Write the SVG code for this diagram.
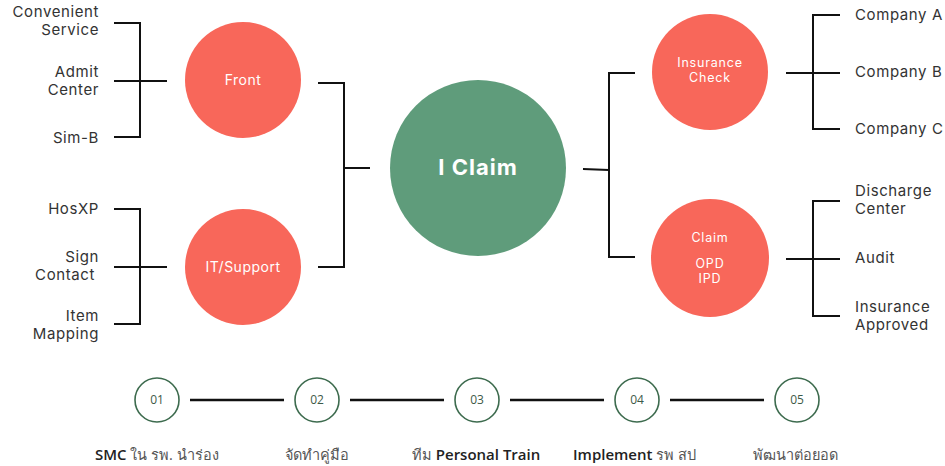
<svg xmlns="http://www.w3.org/2000/svg" width="945" height="466" viewBox="0 0 945 466">
<style>
.lbl{font-family:Inter,"Liberation Sans",sans-serif;font-size:15px;letter-spacing:0.6px;fill:#333;}
.r{text-anchor:end;}
.ct{font-family:Inter,"Liberation Sans",sans-serif;font-size:14px;letter-spacing:0.5px;fill:#fff;text-anchor:middle;}
.ct2{font-family:Inter,"Liberation Sans",sans-serif;font-size:12.5px;letter-spacing:0.8px;fill:#fff;text-anchor:middle;}
.coral{fill:#f8675a;}
.ln{stroke:#111;stroke-width:2;fill:none;}
.tl{stroke:#111;stroke-width:2.5;}
.step{fill:#fff;stroke:#3d6b4e;stroke-width:1.6;}
.num{font-family:"Open Sans","Noto Sans",sans-serif;font-size:12px;fill:#3d5a48;text-anchor:middle;}
.bt{font-family:"Open Sans","Noto Sans",sans-serif;font-size:14.5px;fill:#555;}
.bt .b{font-weight:600;font-size:15px;fill:#222;}
</style>
<rect width="945" height="466" fill="#fff"/>
<g id="connectors">
<path class="ln" d="M114 23H140V137H114M114 81H167"/>
<path class="ln" d="M114 209H140V324H114M114 267H167"/>
<path class="ln" d="M318 83H344V267H318M344 168H370"/>
<path class="ln" d="M583 169L609 170M635 73H609V257H635"/>
<path class="ln" d="M840 15H813V129H840M786 73H840"/>
<path class="ln" d="M840 201H813V316H840M786 259H840"/>
<line class="tl" x1="190" y1="400" x2="284" y2="400"/>
<line class="tl" x1="350" y1="400" x2="444" y2="400"/>
<line class="tl" x1="510" y1="400" x2="604" y2="400"/>
<line class="tl" x1="670" y1="400" x2="764" y2="400"/>
</g>
<g id="convenient"><text class="lbl r" x="99" y="17">Convenient</text><text class="lbl r" x="99" y="35">Service</text></g>
<g id="admit"><text class="lbl r" x="99" y="77">Admit</text><text class="lbl r" x="99" y="95">Center</text></g>
<g id="simb"><text class="lbl r" x="99" y="143">Sim-B</text></g>
<g id="hosxp"><text class="lbl r" x="99" y="214">HosXP</text></g>
<g id="sign"><text class="lbl r" x="99" y="262">Sign</text><text class="lbl r" x="95" y="280">Contact</text></g>
<g id="item"><text class="lbl r" x="99" y="321">Item</text><text class="lbl r" x="99" y="339">Mapping</text></g>
<g id="front"><circle class="coral" cx="243" cy="80" r="58"/><text class="ct" x="243" y="85">Front</text></g>
<g id="itsupport"><circle class="coral" cx="243" cy="267" r="58"/><text class="ct" x="243" y="272">IT/Support</text></g>
<g id="iclaim"><circle cx="478" cy="168" r="88" fill="#5f9c7b"/><text x="478" y="175" text-anchor="middle" font-family="Inter,'Liberation Sans',sans-serif" font-size="22" font-weight="bold" letter-spacing="1" fill="#fff">I Claim</text></g>
<g id="inscheck"><circle class="coral" cx="710" cy="72" r="58"/><text class="ct2" x="710" y="67">Insurance</text><text class="ct2" x="710" y="82">Check</text></g>
<g id="claim"><circle class="coral" cx="710" cy="258" r="59"/><text class="ct2" x="710" y="242">Claim</text><text class="ct2" x="710" y="268">OPD</text><text class="ct2" x="710" y="283">IPD</text></g>
<g id="compa"><text class="lbl" x="855" y="20">Company A</text></g>
<g id="compb"><text class="lbl" x="855" y="77">Company B</text></g>
<g id="compc"><text class="lbl" x="855" y="134">Company C</text></g>
<g id="discharge"><text class="lbl" x="855" y="196">Discharge</text><text class="lbl" x="855" y="214">Center</text></g>
<g id="audit"><text class="lbl" x="855" y="263">Audit</text></g>
<g id="insappr"><text class="lbl" x="855" y="312">Insurance</text><text class="lbl" x="855" y="330">Approved</text></g>
<g id="s01"><circle class="step" cx="157" cy="400" r="22"/><text class="num" x="157" y="404">01</text><text class="bt" x="95" y="460"><tspan class="b">SMC</tspan> ใน รพ. นำร่อง</text></g>
<g id="s02"><circle class="step" cx="317" cy="400" r="22"/><text class="num" x="317" y="404">02</text><text class="bt" x="285" y="460" font-size="13.5">จัดทำคู่มือ</text></g>
<g id="s03"><circle class="step" cx="477" cy="400" r="22"/><text class="num" x="477" y="404">03</text><text class="bt" x="412" y="460">ทีม <tspan class="b">Personal Train</tspan></text></g>
<g id="s04"><circle class="step" cx="637" cy="400" r="22"/><text class="num" x="637" y="404">04</text><text class="bt" x="573" y="460"><tspan class="b">Implement</tspan> รพ สป</text></g>
<g id="s05"><circle class="step" cx="797" cy="400" r="22"/><text class="num" x="797" y="404">05</text><text class="bt" x="753" y="460" font-size="13">พัฒนาต่อยอด</text></g>
</svg>
